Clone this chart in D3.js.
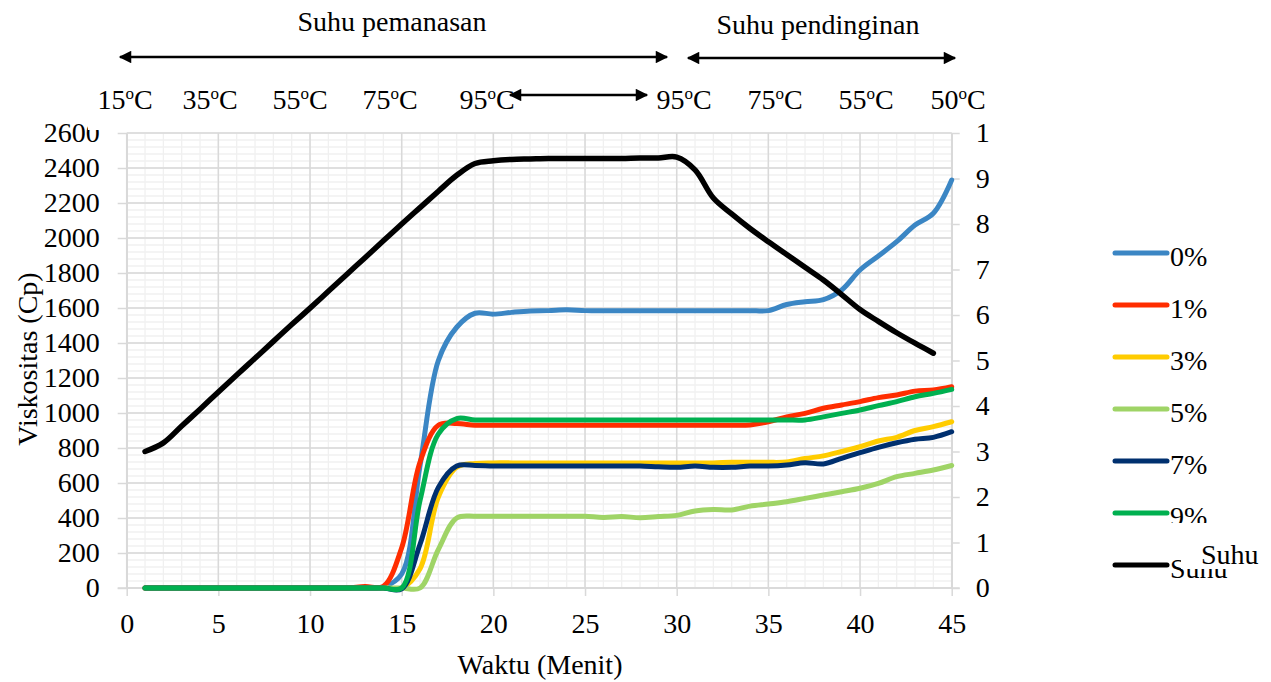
<!DOCTYPE html>
<html>
<head>
<meta charset="utf-8">
<script src="https://cdn.jsdelivr.net/npm/d3@7"></script>
<style>
  body { margin: 0; background: #fff; }
  svg { display: block; }
  svg text { font-family: "Liberation Serif", "Times New Roman", serif !important; }
</style>
</head>
<body>
<div id="chart"></div>
<script>
// minutes
var waktu = [1,2,3,4,5,6,7,8,9,10,11,12,13,14,15,16,17,18,19,20,21,22,23,24,25,26,27,28,29,30,31,32,33,34,35,36,37,38,39,40,41,42,43,44,45];

// viscosity (Cp) per concentration
var v0 = [0,0,0,0,0,0,0,0,0,0,0,0,0,5,80,700,1300,1490,1570,1565,1575,1583,1585,1590,1585,1585,1585,1585,1585,1585,1585,1585,1585,1585,1585,1620,1636,1648,1703,1817,1897,1979,2074,2141,2331];
var v1 = [0,0,0,0,0,0,0,0,0,0,0,0,8,10,230,720,930,940,930,930,930,930,930,930,930,930,930,930,930,930,930,930,930,932,950,978,998,1027,1046,1065,1088,1103,1125,1131,1150];
var v3 = [0,0,0,0,0,0,0,0,0,0,0,0,0,0,0,110,520,690,712,715,715,715,715,715,715,715,715,715,715,715,715,715,718,718,718,720,740,755,780,807,840,861,900,922,950];
var v5 = [0,0,0,0,0,0,0,0,0,0,0,0,0,0,0,0,220,400,410,410,410,410,410,410,410,403,408,402,408,415,440,448,446,468,480,493,512,531,550,570,598,636,655,674,700];
var v7 = [0,0,0,0,0,0,0,0,0,0,0,0,0,0,-5,250,575,697,700,697,697,697,697,697,697,697,697,697,693,690,697,690,690,697,697,703,716,709,741,773,804,830,850,861,893];
var v9 = [0,0,0,0,0,0,0,0,0,0,0,0,0,0,0,500,880,968,960,960,960,960,960,960,960,960,960,960,960,960,960,960,960,960,960,960,960,978,998,1017,1042,1065,1093,1112,1135];

// temperature line, right axis
var suhu = [3.0,3.19,3.56,3.93,4.31,4.68,5.05,5.42,5.79,6.15,6.52,6.89,7.26,7.63,8.0,8.36,8.72,9.07,9.33,9.39,9.42,9.43,9.44,9.44,9.44,9.44,9.44,9.45,9.45,9.47,9.19,8.57,8.22,7.9,7.61,7.33,7.05,6.77,6.45,6.12,5.86,5.61,5.38,5.16];

var seriesNames = ["0%","1%","3%","5%","7%","9%","Suhu"];
var seriesColors = ["#3b86c4","#ff2d00","#ffcc00","#9fd466","#00306f","#00b050","#000000"];

var topLabels = ["15", "35", "55", "75", "95", "95", "75", "55", "50"];
var topLabelX = [125, 210, 300, 390, 487, 684, 775, 866, 958];

var width = 1271, height = 682;
var fs = "28px";
var svg = d3.select("#chart").append("svg")
    .attr("width", width)
    .attr("height", height);

var x = d3.scaleLinear().domain([0, 45]).range([126.7, 951.7]);
var yL = d3.scaleLinear().domain([0, 2600]).range([588, 133]);
var yR = d3.scaleLinear().domain([0, 10]).range([588, 133]);

// grid
var grid = svg.append("g");
grid.selectAll(".hmin").data(d3.range(0, 2601, 40)).enter().append("line")
    .attr("x1", x(0)).attr("x2", x(45))
    .attr("y1", function(d){ return yL(d); }).attr("y2", function(d){ return yL(d); })
    .attr("stroke", "#f0f0f0").attr("stroke-width", 1.3);
grid.selectAll(".vmin").data(d3.range(0, 46, 1)).enter().append("line")
    .attr("y1", yL(0)).attr("y2", yL(2600))
    .attr("x1", function(d){ return x(d); }).attr("x2", function(d){ return x(d); })
    .attr("stroke", "#f0f0f0").attr("stroke-width", 1.3);
grid.selectAll(".hmaj").data(d3.range(0, 2601, 200)).enter().append("line")
    .attr("x1", x(0)).attr("x2", x(45))
    .attr("y1", function(d){ return yL(d); }).attr("y2", function(d){ return yL(d); })
    .attr("stroke", "#d9d9d9").attr("stroke-width", 1.5);
grid.selectAll(".vmaj").data(d3.range(0, 46, 5)).enter().append("line")
    .attr("y1", yL(0)).attr("y2", yL(2600))
    .attr("x1", function(d){ return x(d); }).attr("x2", function(d){ return x(d); })
    .attr("stroke", "#d9d9d9").attr("stroke-width", 1.5);

// axes
function styleAxis(g) {
    g.attr("font-family", null).attr("font-size", null);
    g.selectAll(".domain").attr("stroke", "#d9d9d9").attr("stroke-width", 1.5);
    g.selectAll(".tick line").attr("stroke", "#d9d9d9").attr("stroke-width", 1.5);
    g.selectAll("text").attr("fill", "#000").style("font-size", fs);
}

svg.append("g")
    .attr("transform", "translate(" + x(0) + ",0)")
    .call(d3.axisLeft(yL).tickValues(d3.range(0, 2601, 200)).tickFormat(d3.format("d"))
        .tickSize(9).tickPadding(18).tickSizeOuter(0))
    .call(styleAxis);

var clip = svg.append("clipPath").attr("id", "rclip");
clip.append("rect").attr("x", -20).attr("y", 0).attr("width", 58).attr("height", 682);

svg.append("g")
    .attr("transform", "translate(" + x(45) + ",0)")
    .attr("clip-path", "url(#rclip)")
    .call(d3.axisRight(yR).tickValues(d3.range(0, 11, 1)).tickFormat(d3.format("d"))
        .tickSize(8).tickPadding(16).tickSizeOuter(0))
    .call(styleAxis);

var bottomAxis = svg.append("g")
    .attr("transform", "translate(0," + yL(0) + ")")
    .call(d3.axisBottom(x).tickValues(d3.range(0, 46, 5)).tickSize(8).tickPadding(17).tickSizeOuter(0))
    .call(styleAxis);
bottomAxis.select(".domain").attr("d", "M" + (x(0) - 9) + ",0H" + (x(45) + 8));

// top-left label partly hidden as in the original
svg.append("rect").attr("x", 88).attr("y", 110).attr("width", 16).attr("height", 20).attr("fill", "#fff");

// series
var line = d3.line()
    .x(function(d){ return x(d[0]); })
    .y(function(d){ return d[2](d[1]); })
    .curve(d3.curveCatmullRom.alpha(0.5));

var allSeries = [v0, v1, v3, v5, v7, v9];
allSeries.forEach(function(vals, i) {
    var pts = vals.map(function(v, j){ return [waktu[j], v, yL]; });
    svg.append("path")
        .attr("d", line(pts))
        .attr("fill", "none")
        .attr("stroke", seriesColors[i])
        .attr("stroke-width", 5)
        .attr("stroke-linejoin", "round")
        .attr("stroke-linecap", "round");
});
var suhuPts = suhu.map(function(v, j){ return [waktu[j], v, yR]; });
svg.append("path")
    .attr("d", line(suhuPts))
    .attr("fill", "none")
    .attr("stroke", "#000")
    .attr("stroke-width", 5.5)
    .attr("stroke-linejoin", "round")
    .attr("stroke-linecap", "round");

// axis titles
svg.append("text")
    .attr("transform", "translate(37,359) rotate(-90)")
    .attr("text-anchor", "middle")
    .style("font-size", fs)
    .text("Viskositas (Cp)");
svg.append("text")
    .attr("x", 540).attr("y", 674)
    .attr("text-anchor", "middle")
    .style("font-size", fs)
    .text("Waktu (Menit)");

// legend
var legend = svg.append("g");
seriesNames.forEach(function(name, i) {
    var ly = 253 + i * 52;
    legend.append("line")
        .attr("x1", 1115).attr("x2", 1167)
        .attr("y1", ly).attr("y2", ly)
        .attr("stroke", seriesColors[i])
        .attr("stroke-width", 5)
        .attr("stroke-linecap", "round");
    legend.append("text")
        .attr("x", 1170).attr("y", ly + 13)
        .style("font-size", fs)
        .text(name);
});
// white box over the last legend entries, with the label drawn again
legend.append("rect").attr("x", 1170).attr("y", 523).attr("width", 101).attr("height", 34).attr("fill", "#fff");
legend.append("rect").attr("x", 1181).attr("y", 557).attr("width", 90).attr("height", 12).attr("fill", "#fff");
legend.append("text").attr("x", 1201).attr("y", 564).style("font-size", fs).text("Suhu");

// temperature header
var defs = svg.append("defs");
defs.append("marker").attr("id", "ahead")
    .attr("viewBox", "0 0 10 10").attr("refX", 9).attr("refY", 5)
    .attr("markerWidth", 6).attr("markerHeight", 5)
    .attr("markerUnits", "strokeWidth")
    .attr("orient", "auto-start-reverse")
    .append("path").attr("d", "M0,0L10,5L0,10Z").attr("fill", "#000");

function arrow(x1, x2, yy) {
    svg.append("line")
        .attr("x1", x1).attr("x2", x2).attr("y1", yy).attr("y2", yy)
        .attr("stroke", "#000").attr("stroke-width", 2.5)
        .attr("marker-start", "url(#ahead)")
        .attr("marker-end", "url(#ahead)");
}
arrow(120, 667, 57);
arrow(688, 955, 58);
arrow(510, 647, 95);

svg.append("text").attr("x", 392).attr("y", 31)
    .attr("text-anchor", "middle").style("font-size", fs).text("Suhu pemanasan");
svg.append("text").attr("x", 818).attr("y", 34)
    .attr("text-anchor", "middle").style("font-size", fs).text("Suhu pendinginan");

topLabels.forEach(function(t, i) {
    var tx = svg.append("text")
        .attr("x", topLabelX[i]).attr("y", 109)
        .attr("text-anchor", "middle")
        .style("font-size", fs);
    tx.append("tspan").text(t);
    tx.append("tspan").style("font-size", "17px").attr("dy", -10).text("o");
    tx.append("tspan").attr("dy", 10).text("C");
});
</script>
</body>
</html>
